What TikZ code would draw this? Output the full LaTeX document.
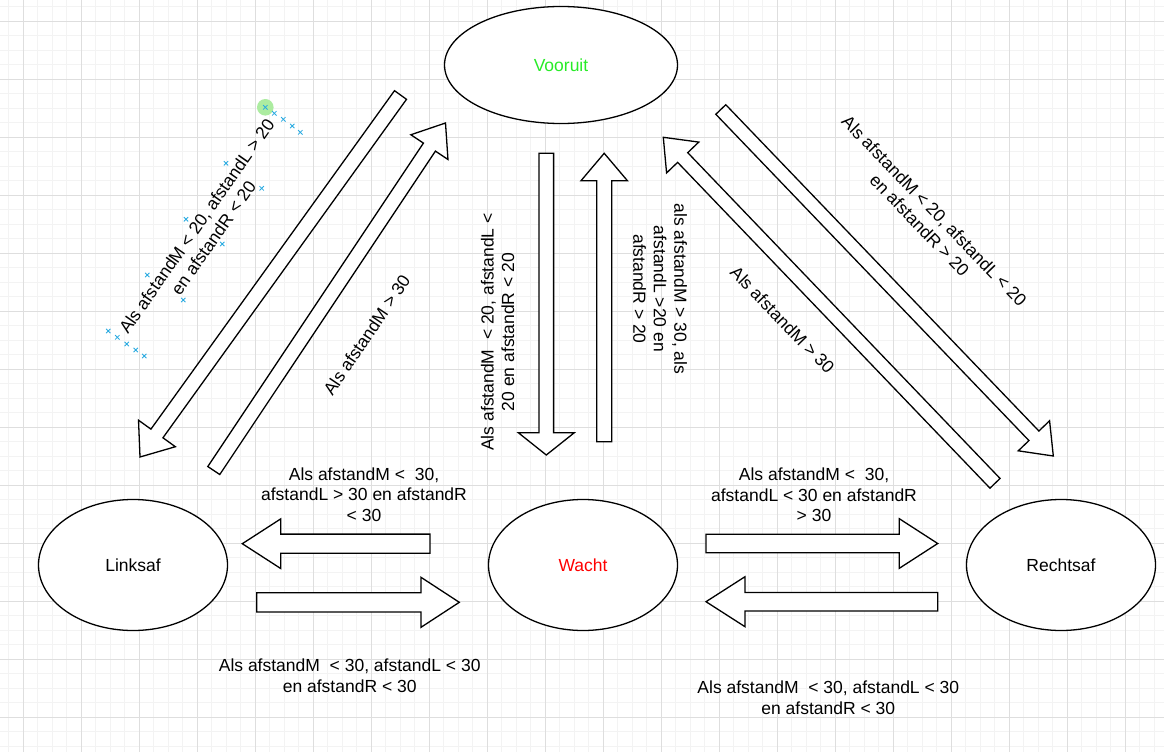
\documentclass[tikz,border=0pt]{standalone}
\usepackage{fontspec}
\setmainfont{Liberation Sans}
\usetikzlibrary{positioning,calc,shapes.geometric}

\definecolor{gridminor}{RGB}{243,243,243}
\definecolor{gridmajor}{RGB}{222,222,222}
\definecolor{selblue}{RGB}{41,170,225}
\definecolor{selgreen}{RGB}{172,236,160}
\definecolor{goodgreen}{RGB}{40,235,40}

% fat outline arrow: from, to, shaft half width, head half width, head length
\newcommand{\fatarrow}[5]{%
  \coordinate (hb) at ($(#2)!#5!(#1)$);
  \draw[fat] ($(#1)!#3!90:(#2)$) -- ($(hb)!#3!-90:(#1)$) -- ($(hb)!#4!-90:(#1)$)
    -- (#2) -- ($(hb)!#4!90:(#1)$) -- ($(hb)!#3!90:(#1)$) -- ($(#1)!#3!-90:(#2)$) -- cycle;
}

\begin{document}
\begin{tikzpicture}[x=1pt, y=-1pt,
    state/.style={ellipse, draw, fill=white, line width=1.3pt, inner sep=0pt,
      font=\fontsize{17.5}{20.5}\selectfont},
    fat/.style={draw, fill=white, line width=1.3pt, line join=miter},
    lbl/.style={font=\fontsize{17.5}{20.5}\selectfont, align=center, inner sep=0pt}]
            % Canvas and grid
            \useasboundingbox (0,0) rectangle (1164,752);
            \fill[white] (0,0) rectangle (1164,752);
            \foreach \i in {0,...,79} \draw[gridminor, line width=1pt] (8.8+14.5*\i,0) -- (8.8+14.5*\i,752);
            \foreach \j in {0,...,51} \draw[gridminor, line width=1pt] (0,6.8+14.5*\j) -- (1164,6.8+14.5*\j);
            \foreach \i in {0,...,19} \draw[gridmajor, line width=1pt] (23.3+58*\i,0) -- (23.3+58*\i,752);
            \foreach \j in {0,...,12} \draw[gridmajor, line width=1pt] (0,21.3+58*\j) -- (1164,21.3+58*\j);

            % Draw the states
            \node[state, minimum width=233pt, minimum height=117pt, text=goodgreen] (vooruit) at (561,65) {Vooruit};
            \node[state, minimum width=189pt, minimum height=131pt] (linksaf) at (133,565) {Linksaf};
            \node[state, minimum width=189pt, minimum height=131pt, text=red] (wacht) at (583,565) {Wacht};
            \node[state, minimum width=189pt, minimum height=131pt] (rechtsaf) at (1061,565) {Rechtsaf};

            % Arrow ends
            \coordinate (vl-a) at (400.5,95);   \coordinate (vl-b) at (140,457);
            \coordinate (lv-a) at (213.8,470.5); \coordinate (lv-b) at (445.5,123);
            \coordinate (vw-a) at (546.3,153.3); \coordinate (vw-b) at (546.3,455);
            \coordinate (wv-a) at (604.2,441.7); \coordinate (wv-b) at (604.2,153.3);
            \coordinate (vr-a) at (720.8,109.5); \coordinate (vr-b) at (1053.3,456);
            \coordinate (rv-a) at (995,483.3);   \coordinate (rv-b) at (663.3,137.3);
            \coordinate (wl-a) at (430,543.7);   \coordinate (wl-b) at (242.3,543.7);
            \coordinate (lw-a) at (256.7,602.3); \coordinate (lw-b) at (459.3,602.3);
            \coordinate (wr-a) at (706,543.5);   \coordinate (wr-b) at (937.7,543.5);
            \coordinate (rw-a) at (937.7,601.7); \coordinate (rw-b) at (706,601.7);

            % Draw the transitions
            \fatarrow{vl-a}{vl-b}{7.4pt}{22.7pt}{29pt}
            \fatarrow{lv-a}{lv-b}{7.2pt}{22.3pt}{29pt}
            \fatarrow{vw-a}{vw-b}{7.3pt}{28pt}{22.3pt}
            \fatarrow{wv-a}{wv-b}{7.5pt}{23.2pt}{27.4pt}
            \fatarrow{vr-a}{vr-b}{6.9pt}{21.7pt}{28pt}
            \fatarrow{rv-a}{rv-b}{7pt}{22.3pt}{28pt}
            \fatarrow{wl-a}{wl-b}{9.6pt}{24.8pt}{38.4pt}
            \fatarrow{lw-a}{lw-b}{9.6pt}{25pt}{38.3pt}
            \fatarrow{wr-a}{wr-b}{9.3pt}{24.8pt}{38.4pt}
            \fatarrow{rw-a}{rw-b}{9.3pt}{25pt}{39pt}

            % Draw the conditions
            \node[lbl, rotate=55] (t-vl) at (205,232) {Als afstandM < 20, afstandL > 20\\en afstandR < 20};
            \node[lbl, rotate=56] (t-lv) at (366.7,335) {Als afstandM > 30};
            \node[lbl, rotate=90] (t-vw) at (497.5,332) {Als afstandM \ < 20, afstandL <\\20 en afstandR < 20};
            \node[lbl, rotate=-90] (t-wv) at (660,289) {als afstandM > 30, als\\afstandL >20 en\\afstandR > 20};
            \node[lbl, rotate=-46] (t-vr) at (927,218) {Als afstandM < 20, afstandL < 20\\en afstandR > 20};
            \node[lbl, rotate=-46] (t-rv) at (782.5,320) {Als afstandM > 30};
            \node[lbl] (t-wl) at (364,494.5) {Als afstandM < \ 30,\\afstandL > 30 en afstandR\\< 30};
            \node[lbl] (t-lw) at (349.7,675.5) {Als afstandM \ < 30, afstandL < 30\\en afstandR < 30};
            \node[lbl] (t-wr) at (814,495) {Als afstandM < \ 30,\\afstandL < 30 en afstandR\\> 30};
            \node[lbl] (t-rw) at (828.3,697.7) {Als afstandM \ < 30, afstandL < 30\\en afstandR < 30};

            % Selection handles
            \fill[selgreen] (265.3,107.3) circle (8.3);
            \foreach \mx/\my in {265.3/107.3, 274.3/113.3, 283.3/119.3, 292.3/126, 300.3/132.3,
                226/163.3, 261.7/188.3, 186/219.3, 222.3/244, 147.3/275, 183.3/300,
                108.3/331, 117.3/337.3, 126.7/344, 135.7/350, 144.3/356}
              \draw[selblue, line width=0.8pt] (\mx-2.2,\my-2.2) -- (\mx+2.2,\my+2.2) (\mx-2.2,\my+2.2) -- (\mx+2.2,\my-2.2);
        \end{tikzpicture}
\end{document}
